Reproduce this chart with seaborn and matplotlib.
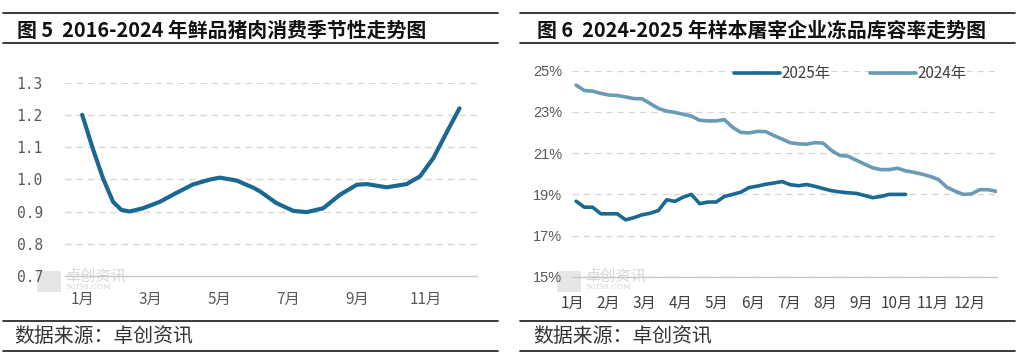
import matplotlib
matplotlib.use("Agg")
import matplotlib.pyplot as plt
import numpy as np
import pandas as pd
import seaborn as sns
from matplotlib.lines import Line2D
from matplotlib.patches import Rectangle

# ================================
# data
# ================================

# figure 5: seasonal index of fresh pork consumption
season_month = [1.0, 1.31, 1.61, 1.90, 2.14, 2.38, 2.77, 3.26, 3.75, 4.23,
                4.72, 5.01, 5.50, 5.98, 6.17, 6.37, 6.66, 7.15, 7.54, 8.02,
                8.51, 9.0, 9.29, 9.87, 10.45, 10.84, 11.23, 11.62, 11.99]
season_index = [1.20, 1.095, 1.002, 0.93, 0.905, 0.90, 0.91, 0.93, 0.958, 0.984,
                0.999, 1.005, 0.996, 0.974, 0.963, 0.948, 0.926, 0.902, 0.898, 0.91,
                0.952, 0.983, 0.985, 0.975, 0.985, 1.009, 1.066, 1.146, 1.22]
season_ticks = ["1月", "3月", "5月", "7月", "9月", "11月"]

# figure 6: weekly frozen storage rate, %
stock_2024 = [24.29, 24.03, 24.00, 23.89, 23.81, 23.79, 23.72, 23.64, 23.63, 23.40,
              23.16, 23.03, 22.97, 22.88, 22.79, 22.59, 22.56, 22.56, 22.62, 22.25,
              22.00, 21.98, 22.05, 22.04, 21.85, 21.68, 21.50, 21.45, 21.43, 21.51,
              21.48, 21.13, 20.89, 20.85, 20.66, 20.47, 20.29, 20.20, 20.20, 20.27,
              20.14, 20.07, 19.98, 19.87, 19.72, 19.35, 19.16, 19.00, 19.02, 19.23,
              19.23, 19.15]
stock_2025 = [18.67, 18.38, 18.38, 18.06, 18.06, 18.06, 17.77, 17.87, 18.01, 18.09,
              18.22, 18.74, 18.66, 18.87, 19.00, 18.55, 18.63, 18.63, 18.90, 19.00,
              19.11, 19.33, 19.40, 19.49, 19.55, 19.62, 19.47, 19.42, 19.48, 19.39,
              19.28, 19.18, 19.12, 19.08, 19.05, 18.95, 18.84, 18.90, 19.00, 19.00,
              19.00]
stock_months = ["1月", "2月", "3月", "4月", "5月", "6月",
                "7月", "8月", "9月", "10月", "11月", "12月"]
stock_yticks = [15, 17, 19, 21, 23, 25]

title_left = "图 5  2016-2024 年鲜品猪肉消费季节性走势图"
title_right = "图 6  2024-2025 年样本屠宰企业冻品库容率走势图"
source_text = "数据来源：卓创资讯"

# ================================
# style
# ================================

sns.set_theme(style="white")
plt.rcParams["font.family"] = ["Noto Sans CJK SC", "DejaVu Sans"]
plt.rcParams["axes.unicode_minus"] = False

W, H = 1017, 360
fig = plt.figure(figsize=(W / 100, H / 100), dpi=100)
fig.patch.set_facecolor("white")

dark_blue = "#1b6891"
light_blue = "#6a9bb4"
grid_col = "#d4d4d4"
tick_col = "#595959"


def px(x0, y0, x1, y1):
    return [x0 / W, 1 - y1 / H, (x1 - x0) / W, (y1 - y0) / H]


# frame rules and titles
for x0, x1 in [(3, 498), (520, 1015)]:
    for y in [13.3, 43.3, 320.5, 350.7]:
        fig.add_artist(Line2D([x0 / W, x1 / W], [1 - y / H, 1 - y / H],
                              color="#1a1a1a", lw=1.2))

fig.text(17 / W, 1 - 30 / H, title_left, fontsize=14.3, fontweight="bold",
         va="center", ha="left", color="#111111")
fig.text(537 / W, 1 - 30 / H, title_right, fontsize=14.3, fontweight="bold",
         va="center", ha="left", color="#111111")
fig.text(14 / W, 1 - 336 / H, source_text, fontsize=14.3, va="center",
         ha="left", color="#333333")
fig.text(533 / W, 1 - 336 / H, source_text, fontsize=14.3, va="center",
         ha="left", color="#333333")

# ================================
# left chart
# ================================

ax1 = fig.add_axes(px(65, 82.5, 477, 276))
df_season = pd.DataFrame({"month": season_month, "index": season_index})
sns.lineplot(data=df_season, x="month", y="index", ax=ax1, color=dark_blue,
             lw=3.0, sort=False, solid_joinstyle="round", solid_capstyle="round")
ax1.set_xlim(0.5, 12.5)
ax1.set_ylim(0.7, 1.3)
ax1.set_yticks(np.arange(0.7, 1.31, 0.1))
ax1.set_yticklabels([f"{v:.1f}" for v in np.arange(0.7, 1.31, 0.1)],
                    family="DejaVu Sans Mono", fontsize=10.5, color=tick_col)
ax1.set_xticks([1, 3, 5, 7, 9, 11])
ax1.set_xticklabels(season_ticks, fontsize=11, color=tick_col)
ax1.tick_params(axis="y", length=0, pad=16)
ax1.tick_params(axis="x", length=0, pad=11)
ax1.set_xlabel("")
ax1.set_ylabel("")

# ================================
# right chart
# ================================

ax2 = fig.add_axes(px(572, 70.5, 997, 277))
df_stock = pd.concat([
    pd.DataFrame({"week": range(len(stock_2025)), "rate": stock_2025, "year": "2025年"}),
    pd.DataFrame({"week": range(len(stock_2024)), "rate": stock_2024, "year": "2024年"}),
])
sns.lineplot(data=df_stock, x="week", y="rate", hue="year", ax=ax2,
             palette={"2025年": dark_blue, "2024年": light_blue}, lw=2.6)
ax2.set_xlim(-0.5, 51.1)
ax2.set_ylim(15, 25)
ax2.set_yticks(stock_yticks)
ax2.set_yticklabels([f"{v}%" for v in stock_yticks], family="Liberation Sans",
                    fontsize=10.5, color=tick_col)
ax2.set_xticks([-0.45 + 4.38 * i for i in range(12)])
ax2.set_xticklabels(stock_months, fontsize=11, color="#404040")
ax2.tick_params(axis="y", length=0, pad=7)
ax2.tick_params(axis="x", length=3, width=0.8, color="#bfbfbf", pad=10,
                direction="out")
ax2.set_xlabel("")
ax2.set_ylabel("")
leg = ax2.legend(loc="center", bbox_to_anchor=(0.654, 0.985), ncol=2,
                 frameon=False, fontsize=11, handlelength=3.0,
                 handletextpad=0.1, columnspacing=2.6)
for t in leg.get_texts():
    t.set_color("#404040")

for ax in (ax1, ax2):
    ax.patch.set_visible(False)
    ax.grid(axis="y", color=grid_col, ls=(0, (5, 4)), lw=0.9)
    ax.grid(axis="x", visible=False)
    for s in ["top", "right", "left"]:
        ax.spines[s].set_visible(False)
    ax.spines["bottom"].set_color("#c8c8c8")
    ax.spines["bottom"].set_linewidth(1.0)
    ax.set_axisbelow(True)

# watermark (kept faint, behind the tick labels)
for lx in (37, 557):
    fig.add_artist(Rectangle((lx / W, 1 - 292 / H), 24 / W, 21 / H,
                             color="#e6e6e6", lw=0, zorder=-1))
    fig.text((lx + 28) / W, 1 - 276 / H, "卓创资讯", fontsize=11,
             color="#d6d6d6", va="center", ha="left", zorder=-1)
    fig.text((lx + 28) / W, 1 - 287 / H, "SCI99.COM", fontsize=5.5,
             color="#d6d6d6", va="center", ha="left", zorder=-1,
             family="DejaVu Serif")

fig.savefig("out.png", dpi=100, facecolor="white")
